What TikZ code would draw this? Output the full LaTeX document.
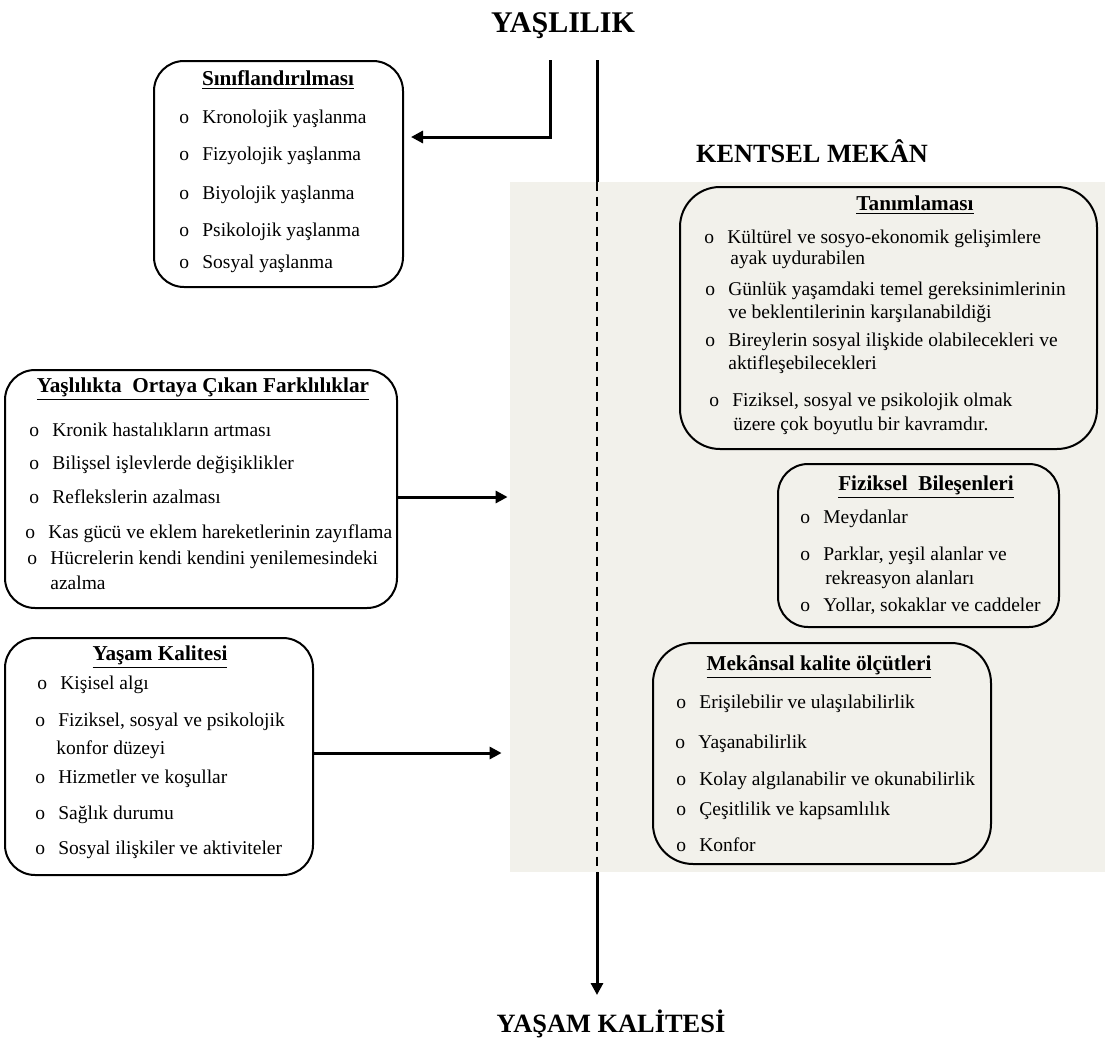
\documentclass[tikz,border=0pt]{standalone}
\usepackage{fontspec}
\setmainfont{Liberation Serif}
\usepackage{tikz}
\usetikzlibrary{arrows.meta}

\definecolor{zemin}{RGB}{242,241,235}

\tikzset{
  kutu/.style={draw, line width=1pt, rounded corners=15pt, inner sep=0pt},
  baslik/.style={font=\fontsize{10.6}{12}\selectfont\bfseries, inner sep=0pt, anchor=base},
  madde/.style={font=\fontsize{9.75}{11}\selectfont, inner sep=0pt, anchor=base west},
  ana/.style={font=\fontsize{15}{17}\selectfont\bfseries, inner sep=0pt, anchor=base},
  ok/.style={line width=1.5pt, -{Triangle[length=6pt,width=6pt]}}
}
\newcommand{\bul}{\makebox[11.5pt][l]{o}}

\begin{document}
\begin{tikzpicture}[x=0.5pt,y=-0.5pt]
\useasboundingbox (0,0) rectangle (1105,1039);

% Kentsel mekan zemini
\node[fill=zemin, inner sep=0pt, minimum width=297.5pt, minimum height=345pt] (kentsel) at (807.5,527) {};
\node[ana, font=\fontsize{13.15}{15}\selectfont\bfseries] (kentbaslik) at (812,162) {KENTSEL MEKÂN};

% Ana eksen
\node[ana] (yasli) at (563,32) {YAŞLILIK};
\node[ana, font=\fontsize{13.2}{15}\selectfont\bfseries] (yasam) at (611,1032) {YAŞAM KALİTESİ};
\coordinate (solust) at (550,60);
\coordinate (anaust) at (597,60);
\coordinate (anaalt) at (597,995);
\draw[line width=1.5pt] (anaust) -- (anaust |- kentsel.north);
\draw[line width=1pt, dash pattern=on 4.5pt off 3pt] (anaust |- kentsel.north) -- (anaust |- kentsel.south);
\draw[ok] (anaust |- kentsel.south) -- (anaalt);

% Siniflandirilmasi
\node[kutu, minimum width=124.5pt, minimum height=113pt] (sinif) at (278.5,174) {};
\node[baslik] (sinifb) at (278,85) {\underline{Sınıflandırılması}};
\node[madde] (s1) at (179,123) {\bul Kronolojik yaşlanma};
\node[madde] (s2) at (179,160) {\bul Fizyolojik yaşlanma};
\node[madde] (s3) at (179,199) {\bul Biyolojik yaşlanma};
\node[madde] (s4) at (179,236) {\bul Psikolojik yaşlanma};
\node[madde] (s5) at (179,268) {\bul Sosyal yaşlanma};
\draw[ok, shorten >=3.5pt] (solust) |- (sinif.east |- 0,137);

% Yaslilikta ortaya cikan farkliliklar
\node[kutu, minimum width=196pt, minimum height=119pt] (fark) at (201,489) {};
\node[baslik] (farkb) at (203,392) {\underline{Yaşlılıkta\ \ Ortaya Çıkan Farklılıklar}};
\node[madde] (f1) at (29,436) {\bul Kronik hastalıkların artması};
\node[madde] (f2) at (29,469) {\bul Bilişsel işlevlerde değişiklikler};
\node[madde] (f3) at (29,503) {\bul Reflekslerin azalması};
\node[madde] (f4) at (25,538) {\bul Kas gücü ve eklem hareketlerinin zayıflama};
\node[madde] (f5) at (27,564) {\bul Hücrelerin kendi kendini yenilemesindeki};
\node[madde] (f5b) at (50,589) {azalma};
\draw[ok, shorten >=1pt] (fark.east |- 0,497) -- (kentsel.west |- 0,497);

% Yasam kalitesi
\node[kutu, minimum width=154pt, minimum height=118.5pt] (kalite) at (159,756.5) {};
\node[baslik] (kaliteb) at (160,660) {\underline{Yaşam Kalitesi}};
\node[madde] (k1) at (37,689) {\bul Kişisel algı};
\node[madde] (k2) at (35,726) {\bul Fiziksel, sosyal ve psikolojik};
\node[madde] (k2b) at (56,754) {konfor düzeyi};
\node[madde] (k3) at (35,783) {\bul Hizmetler ve koşullar};
\node[madde] (k4) at (35,819) {\bul Sağlık durumu};
\node[madde] (k5) at (35,854) {\bul Sosyal ilişkiler ve aktiviteler};
\draw[ok, shorten >=4pt] (kalite.east |- 0,753) -- (kentsel.west |- 0,753);

% Tanimlamasi
\node[kutu, rounded corners=20pt, minimum width=208.5pt, minimum height=131pt] (tanim) at (888.5,318) {};
\node[baslik] (tanimb) at (915,210) {\underline{Tanımlaması}};
\node[madde] (t1) at (704,243) {\bul Kültürel ve sosyo-ekonomik gelişimlere};
\node[madde] (t1b) at (730,264) {ayak uydurabilen};
\node[madde] (t2) at (705,295) {\bul Günlük yaşamdaki temel gereksinimlerinin};
\node[madde] (t2b) at (728,318) {ve beklentilerinin karşılanabildiği};
\node[madde] (t3) at (705,346) {\bul Bireylerin sosyal ilişkide olabilecekleri ve};
\node[madde] (t3b) at (728,369) {aktifleşebilecekleri};
\node[madde] (t4) at (709,406) {\bul Fiziksel, sosyal ve psikolojik olmak};
\node[madde] (t4b) at (733,430) {üzere çok boyutlu bir kavramdır.};

% Fiziksel bilesenleri
\node[kutu, minimum width=140.5pt, minimum height=81.5pt] (fizik) at (918.5,545.5) {};
\node[baslik] (fizikb) at (926,490) {\underline{Fiziksel\ \ Bileşenleri}};
\node[madde] (z1) at (800,523) {\bul Meydanlar};
\node[madde] (z2) at (800,560) {\bul Parklar, yeşil alanlar ve};
\node[madde] (z2b) at (825,584) {rekreasyon alanları};
\node[madde] (z3) at (800,611) {\bul Yollar, sokaklar ve caddeler};

% Mekansal kalite olcutleri
\node[kutu, rounded corners=20pt, minimum width=169pt, minimum height=110.5pt] (mekan) at (822,753.5) {};
\node[baslik] (mekanb) at (819,670) {\underline{Mekânsal kalite ölçütleri}};
\node[madde] (m1) at (676,708) {\bul Erişilebilir ve ulaşılabilirlik};
\node[madde] (m2) at (675,748) {\bul Yaşanabilirlik};
\node[madde] (m3) at (676,785) {\bul Kolay algılanabilir ve okunabilirlik};
\node[madde] (m4) at (676,815) {\bul Çeşitlilik ve kapsamlılık};
\node[madde] (m5) at (676,851) {\bul Konfor};
\end{tikzpicture}
\end{document}
